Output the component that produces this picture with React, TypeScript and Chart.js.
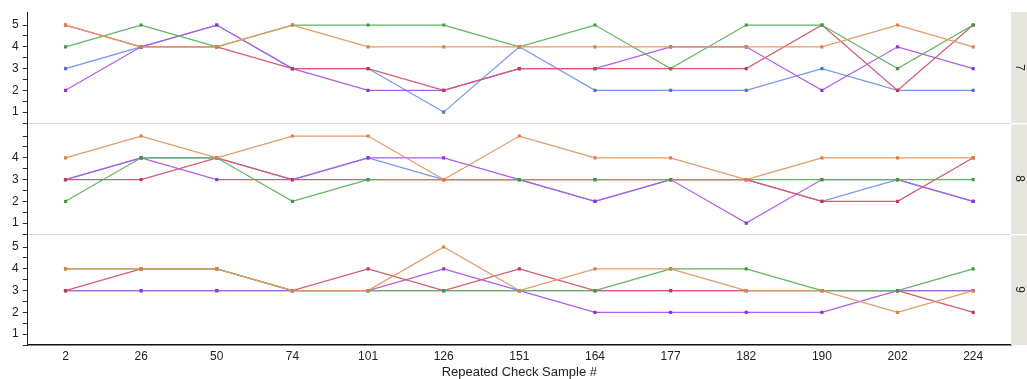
import { useEffect, useRef } from "react";
import { Chart, registerables } from "chart.js";

Chart.register(...registerables);

// Categories (x axis)
const samples = ["2", "26", "50", "74", "101", "126", "151", "164", "177", "182", "190", "202", "224"];
// Panel (strip) labels
const panelLabels = ["7", "8", "9"];
const seriesNames = ["Series 1", "Series 2", "Series 3", "Series 4", "Series 5"];

// Panel 7
const p7Orange = [5, 4, 4, 5, 4, 4, 4, 4, 4, 4, 4, 5, 4];
const p7Green = [4, 5, 4, 5, 5, 5, 4, 5, 3, 5, 5, 3, 5];
const p7Blue = [3, 4, 5, 3, 3, 1, 4, 2, 2, 2, 3, 2, 2];
const p7Red = [5, 4, 4, 3, 3, 2, 3, 3, 3, 3, 5, 2, 5];
const p7Purple = [2, 4, 5, 3, 2, 2, 3, 3, 4, 4, 2, 4, 3];

// Panel 8
const p8Orange = [4, 5, 4, 5, 5, 3, 5, 4, 4, 3, 4, 4, 4];
const p8Green = [2, 4, 4, 2, 3, 3, 3, 3, 3, 3, 3, 3, 3];
const p8Blue = [3, 4, 4, 3, 4, 3, 3, 2, 3, 3, 2, 3, 2];
const p8Red = [3, 3, 4, 3, 3, 3, 3, 3, 3, 3, 2, 2, 4];
const p8Purple = [3, 4, 3, 3, 4, 4, 3, 2, 3, 1, 3, 3, 2];

// Panel 9
const p9Orange = [4, 4, 4, 3, 3, 5, 3, 4, 4, 3, 3, 2, 3];
const p9Green = [4, 4, 4, 3, 3, 3, 3, 3, 4, 4, 3, 3, 4];
const p9Blue = [3, 3, 3, 3, 3, 3, 3, 3, 3, 3, 3, 3, 3];
const p9Red = [3, 4, 4, 3, 4, 3, 4, 3, 3, 3, 3, 3, 2];
const p9Purple = [3, 3, 3, 3, 3, 4, 3, 2, 2, 2, 2, 3, 3];

const yTicks = [1, 2, 3, 4, 5];

// series order: orange, green, blue, red, purple
const lineColors = ["#e59a68", "#62b462", "#7896ee", "#d65a70", "#ad5ee8"];
const markColors = ["#d9823f", "#3f9a3f", "#4d6fe0", "#c23a55", "#8d34d4"];
const drawOrder = [0, 1, 4, 2, 3];

const FONT = "'Liberation Sans', Arial, sans-serif";

export default function App() {
  const ref = useRef<HTMLCanvasElement | null>(null);

  useEffect(() => {
    document.body.style.margin = "0";
    const canvas = ref.current;
    if (!canvas) return;

    const panelData = [
      [p7Orange, p7Green, p7Blue, p7Red, p7Purple],
      [p8Orange, p8Green, p8Blue, p8Red, p8Purple],
      [p9Orange, p9Green, p9Blue, p9Red, p9Purple],
    ];
    const axisIds = ["y7", "y8", "y9"];

    const datasets: any[] = [];
    panelData.forEach((series, pi) => {
      series.forEach((vals, si) => {
        datasets.push({
          label: seriesNames[si] + " (" + panelLabels[pi] + ")",
          data: vals,
          yAxisID: axisIds[pi],
          order: drawOrder[si],
          borderColor: lineColors[si],
          borderWidth: 1.2,
          pointStyle: "rect",
          pointRadius: 2.2,
          pointBorderWidth: 0,
          pointBackgroundColor: markColors[si],
          tension: 0,
          fill: false,
        });
      });
    });

    const makeY = (pi: number) => ({
      type: "linear",
      position: "left",
      stack: "panels",
      stackWeight: 1,
      min: 0.5,
      max: 5.6,
      afterBuildTicks: (scale: any) => {
        scale.ticks = scale.ticks.filter(
          (t: any) => Math.abs(t.value * 2 - Math.round(t.value * 2)) < 1e-6
        );
      },
      ticks: {
        stepSize: 0.5,
        autoSkip: false,
        padding: 4,
        color: "#222",
        font: { family: FONT, size: 12 },
        callback: (v: any) => {
          const n = Number(v);
          if (!yTicks.includes(n)) return "";
          if (pi === 1 && n === 5) return "";
          return String(n);
        },
      },
      grid: {
        drawOnChartArea: false,
        drawTicks: true,
        tickLength: 5,
        color: "#333",
      },
      border: { display: true, color: "#222", width: 1 },
    });

    const decor = {
      id: "panelDecor",
      beforeDatasetsDraw(chart: any) {
        const { ctx, chartArea } = chart;
        ctx.save();
        ["y8", "y9"].forEach((id) => {
          const s = chart.scales[id];
          const y = Math.round(s.top) + 0.5;
          ctx.strokeStyle = "#d6d6d6";
          ctx.lineWidth = 1;
          ctx.beginPath();
          ctx.moveTo(chartArea.left + 1, y);
          ctx.lineTo(chartArea.right, y);
          ctx.stroke();
        });
        axisIds.forEach((id, i) => {
          const s = chart.scales[id];
          const x0 = chartArea.right;
          const w = chart.width - x0;
          ctx.fillStyle = "#e6e6de";
          ctx.fillRect(x0, s.top + (i === 0 ? 0 : 1.5), w, s.bottom - s.top - (i === 0 ? 0 : 1.5));
          ctx.save();
          ctx.translate(x0 + w / 2, (s.top + s.bottom) / 2);
          ctx.rotate(Math.PI / 2);
          ctx.fillStyle = "#222";
          ctx.font = "12px " + FONT;
          ctx.textAlign = "center";
          ctx.textBaseline = "middle";
          ctx.fillText(panelLabels[i], 0, 0);
          ctx.restore();
        });
        ctx.restore();
      },
    };

    const chart = new Chart(canvas, {
      type: "line",
      data: { labels: samples, datasets },
      options: {
        animation: false,
        responsive: true,
        maintainAspectRatio: false,
        layout: { padding: { left: 8, right: 16, top: 12, bottom: 0 } },
        plugins: {
          legend: { display: false },
          tooltip: { enabled: false },
        },
        scales: {
          x: {
            type: "category",
            offset: true,
            grid: { drawOnChartArea: false, drawTicks: false },
            border: { display: true, color: "#111", width: 1.5 },
            ticks: {
              padding: 6,
              color: "#222",
              font: { family: FONT, size: 12, lineHeight: 1 },
              maxRotation: 0,
              autoSkip: false,
            },
            title: {
              display: true,
              text: "Repeated Check Sample #",
              color: "#222",
              font: { family: FONT, size: 13, lineHeight: 1 },
              padding: { top: -3, bottom: 0 },
            },
          },
          y9: makeY(2),
          y8: makeY(1),
          y7: makeY(0),
        } as any,
      },
      plugins: [decor],
    });

    return () => chart.destroy();
  }, []);

  return (
    <div style={{ width: "1027px", height: "379px", position: "relative" }}>
      <canvas ref={ref} />
    </div>
  );
}
